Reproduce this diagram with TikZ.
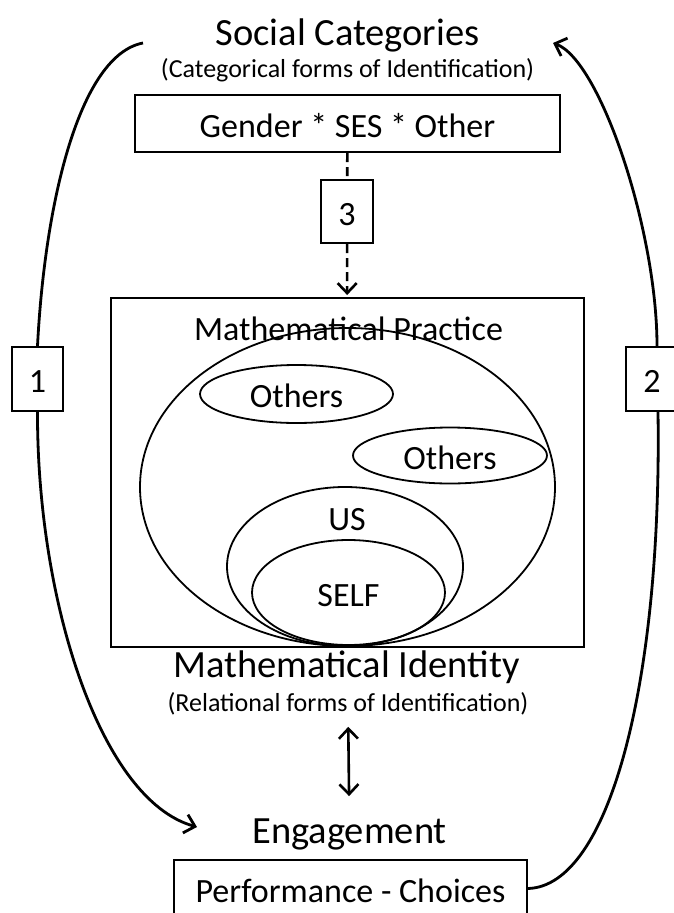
\documentclass[tikz,border=0pt]{standalone}
\usepackage{fontspec}
\setmainfont{Carlito}
\usetikzlibrary{arrows.meta,shapes.geometric,backgrounds}

\tikzset{barb/.tip={Straight Barb[length=10pt,width=19pt]}}

\begin{document}
\begin{tikzpicture}[x=1pt,y=1pt,
        big/.style={font=\fontsize{38.5}{40}\selectfont, inner sep=0pt, anchor=base},
        sub/.style={font=\fontsize{26}{28}\selectfont, inner sep=0pt, anchor=base},
        mid/.style={font=\fontsize{34}{36}\selectfont, inner sep=0pt},
        boxed/.style={mid, draw, line width=2.2pt, fill=white, text height=27pt, text depth=0pt},
        ring/.style={mid, draw, ellipse, line width=1.8pt, text height=27pt, text depth=0pt},
        sweep/.style={line width=2.8pt, -barb},
        dashline/.style={line width=2.6pt, dash pattern=on 9pt off 5pt}]

        \useasboundingbox (0,0) rectangle (673,-913);

        % top: social categories
        \node[big] (soc) at (347.5,-45) {Social Categories};
        \node[sub] (cat) at (347.5,-77) {(Categorical forms of Identification)};
        \node[boxed, minimum width=425pt, minimum height=57pt] (gso) at (347.5,-123.5) {Gender * SES * Other};
        \node[boxed, minimum width=52pt, minimum height=63pt] (three) at (347,-211.5) {3};

        % practice box with the nested ellipses
        \node[draw, line width=2pt, inner sep=0pt, minimum width=473pt, minimum height=349pt] (prac) at (347.5,-472.5) {};
        \node[mid, anchor=base] (mp) at (348.5,-340) {Mathematical Practice};
        \node[ring, minimum width=415pt, minimum height=318pt] (world) at (347.5,-487) {};
        \node[ring, minimum width=193pt, minimum height=58pt] (othA) at (296.5,-394) {Others};
        \node[ring, minimum width=194pt, minimum height=56pt] (othB) at (450,-455.5) {Others};
        \node[ring, minimum width=236pt, minimum height=159pt] (us) at (345,-566.5) {};
        \node[mid, anchor=base] (uslabel) at (347,-530) {US};
        \node[ring, minimum width=193pt, minimum height=105pt] (self) at (348.5,-592.5) {SELF};

        % bottom: identity and engagement
        \node[big] (mi) at (346.5,-677) {Mathematical Identity};
        \node[sub] (rel) at (348,-711) {(Relational forms of Identification)};
        \node[big] (eng) at (349.5,-843) {Engagement};
        \node[boxed, minimum width=353pt, minimum height=57pt] (perf) at (350.5,-888.5) {Performance - Choices};

        % side labels
        \node[boxed, minimum width=51pt, minimum height=64pt] (one) at (37.5,-379) {1};
        \node[boxed, minimum width=52pt, minimum height=64pt] (two) at (652,-379) {2};

        \coordinate (lstart) at (143,-43);
        \coordinate (lend) at (197,-827);
        \coordinate (rend) at (553,-43);

        \draw[dashline] (gso) -- (three);
        \draw[dashline, -barb, shorten >=2pt] (three) -- (prac);
        \draw[line width=2.6pt, barb-barb, shorten <=12pt, shorten >=22pt] (rel) -- (eng);

        \begin{scope}[on background layer]
            \draw[line width=2.8pt] (lstart) .. controls (80,-55) and (45,-200) .. (one.north);
            \draw[sweep] (one.south) .. controls (37,-600) and (100,-800) .. (lend);
            \draw[line width=2.8pt] (perf.east) .. controls (610,-886) and (662,-680) .. ([xshift=6pt]two.south);
            \draw[sweep] ([xshift=5pt]two.north) .. controls (657,-230) and (600,-60) .. (rend);
        \end{scope}

\end{tikzpicture}
\end{document}
